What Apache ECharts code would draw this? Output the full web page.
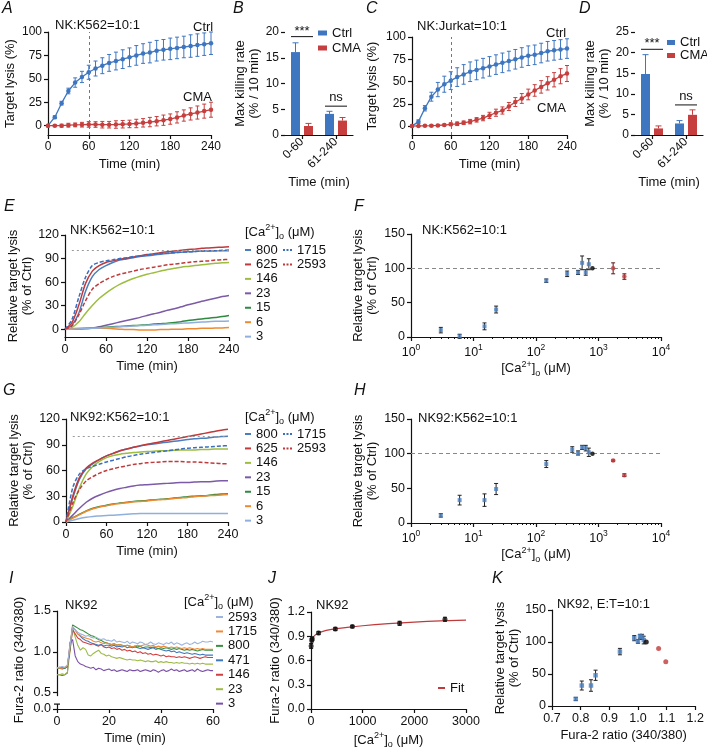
<!DOCTYPE html>
<html><head><meta charset="utf-8">
<script src="https://cdn.jsdelivr.net/npm/echarts@6/dist/echarts.min.js"></script>
<style>html,body{margin:0;padding:0;background:#fff}#c{width:707px;height:750px}</style>
</head><body><div id="c"></div>
<script>
// ---------------- DATA ----------------
const T10 = [0,10,20,30,40,50,60,70,80,90,100,110,120,130,140,150,160,170,180,190,200,210,220,230,240];
// Panel A (NK:K562)
const A_ctrl     = [0,9,24,37,46,52,57,61,64,67,69,71,73,75,77,78,80,81,82,83,84,85,86,87,88];
const A_ctrl_sem = [0,1.5,2,3,5,6,7.5,8,8.5,9,9.5,10,10,10.5,10.5,11,11,11,11.5,11.5,11.5,12,12,12,12];
const A_cma      = [0,0,0,0.5,0.8,1,1.3,1.2,1,1,1.2,1.5,1.8,2.3,3,3.8,4.7,5.8,7,8.8,10.8,12.5,14,15.5,17];
const A_cma_sem  = [0,1,1.5,2,2,2.5,3,3,3.5,3.5,4,4,4,4.5,4.5,5,5,5.5,5.5,6,6,6.5,7,7.5,8];
// Panel C (NK:Jurkat)
const C_ctrl     = [0,5,20,33,41,47,51,55,58,61,63,65,67,69,71,73,75,77,79,80,82,84,85,86,87];
const C_ctrl_sem = [0,2,3,5,8,9,10,10.5,11,11,11,11,11,11,11,11,11,11,11,11,11,11,11,11,11];
const C_cma      = [0,0.2,0.3,0.5,0.8,1.2,2,2.6,3.7,5,7,9,12,15,17.5,22,27,31,35.5,40,44,48,52,56,59];
const C_cma_sem  = [0,0.5,0.8,1,1,1,1.5,2,2,2.5,2.5,3,3.5,4,4,4.5,5,5.5,6,6.5,7,7.5,8,8.5,9];
// Panels B, D (bars)
const barCats = ['0-60','61-240'];
const B_ctrl = [16.1, 4.1], B_ctrl_sem = [1.8, 0.5];
const B_cma  = [1.75, 2.8], B_cma_sem  = [0.5, 0.6];
const B_sig  = [[0, 19.1, '***'], [1, 5.6, 'ns']];
const D_ctrl = [14.8, 2.8], D_ctrl_sem = [4.7, 0.7];
const D_cma  = [1.6, 4.9],  D_cma_sem  = [0.6, 1.2];
const D_sig  = [[0, 20.8, '***'], [1, 7.3, 'ns']];
// Panel E (NK:K562, relative lysis by [Ca2+]o)
const E_800  = [0,5,20,48,67,76,81,85,88,89.5,91,92.5,93.5,94.5,95.5,96.5,97.5,98,98.5,99,99.5,99.5,100,100,100];
const E_625  = [0,8,30,58,74,81,85,87,89,90.5,92,93.5,95,96,97.5,98.5,99.5,100.5,101.5,102,103,103.5,104,104.5,105];
const E_146  = [0,2,9,20,30,39,46,52,57,61,64.5,67.5,70,72,74,76,77.5,79,80,81,82,83,84,84.5,85];
const E_23   = [0,0,0.2,0.5,1.5,3,5,7,9,11,13,15,17.5,19.5,21.5,24,26,28.5,31,33,35.5,37.5,39.5,41.5,43];
const E_15   = [0,0,0.5,1,1.5,2,2.5,3,3.5,4,4.5,5,5.5,6.5,7,7.5,8.5,9.5,11,12,13,14,15,16,17.5];
const E_6    = [0,0.5,1,1,1,1,1,0.5,0,-0.5,-0.5,-1,-1,-1,-0.5,-0.5,0,0,0.5,0.5,1,1,1.5,1.5,2];
const E_3    = [0,0,0.3,0.5,1,1.5,2,2.5,3,3.5,4,4.5,5,5.5,6,6.5,7,7.5,8,8.5,9,9.5,10,10,10.5];
const E_1715 = [0,12,40,66,81,85,87,88.5,90,91,92.5,93.5,94.5,95.5,96.5,97,97.5,98,98.5,99,99.5,100,100,100.5,101];
const E_2593 = [0,4,18,36,51,58,63,67,70,72,74,76,77.5,79,80.5,82,83,84,85,86,86.5,87,88,88.5,89];
// Panel G (NK92:K562)
const G_800  = [0,28,50,62,68,73,77,80,83,85,87,88.5,90,91,92,93,94,95,96,97,97.5,98,99,99.5,100];
const G_625  = [0,30,52,63,69,73,77,80,83,85,87,89,90.5,92,93.5,95,96.5,98,99.5,101,102.5,104,105.5,107,108];
const G_146  = [0,18,40,56,65,71,75,77.5,79,80,81,81.5,82,82.5,83,83,83.5,84,84,84,84.5,84.5,85,85,85];
const G_23   = [0,8,16,23,28,31.5,34.5,37,39,40.5,42,43,43.5,44,44.5,45,45.5,46,46,46.5,47,47,47.5,48,48];
const G_15   = [0,5,9,13,16,18,19.5,21,22,23,24,24.5,25,26,26.5,27,28,28.5,29.5,30,30.5,31,32,32.5,33];
const G_6    = [0,4.5,8.5,12.5,15.5,17.5,19,20.5,21.5,22.5,23.5,24,24.5,25.5,26,26.5,27.5,28,28.5,29.5,30,30.5,31,31.5,32];
const G_3    = [0,2,4,5.5,6.5,7,7.5,8,8.5,9,9.5,10,10,10,10,10,10,10,10,10,10,10,10,10,10];
const G_1715 = [0,40,56,62,65,67.5,70,72,74,76,77.5,79,80,81,82,83,84,85,86,86.5,87,87.5,88,88.5,89];
const G_2593 = [0,22,38,48,53,57,60,62,64,65.5,67,68,69,69.5,70,70.5,70.5,70.5,70,70,69.5,69,68.5,68,68];
// Panel F (log x)
const F_x   = [3,6,15,23,146,315,471,547,625,700];
const F_y   = [10,1,15.5,40,82,92,94,108,94,106];
const F_err = [4,3,5,5,2.5,4,3,10,4,8];
const F_ref = [[800,100]];
const F_hi  = [[1715,100,8],[2593,88,4]];
// Panel H (log x)
const H_x   = [3,6,15,23,146,380,471,547,625,700];
const H_y   = [11,33,33,49,85,106,101,109,108,102];
const H_err = [2.5,7,9,8,5,4,3,3,4,6];
const H_ref = [[800,100]];
const H_hi  = [[1715,90,1],[2593,69,2]];
// Panel I (Fura-2 traces, 1-min samples)
const I_time = [0,1,2,3,4,5,6,7,8,9,10,11,12,13,14,15,16,17,18,19,20,21,22,23,24,25,26,27,28,29,30,
  31,32,33,34,35,36,37,38,39,40,41,42,43,44,45,46,47,48,49,50,51,52,53,54,55,56,57,58,59,60];
const I_2593 = [0.80,0.81,0.82,0.81,0.84, 1.08,1.31,1.27,1.24,1.22, 1.21,1.19,1.20,1.18,1.17, 1.18,1.16,1.15,1.16,1.14,
  1.14,1.13,1.15,1.12,1.13, 1.12,1.11,1.13,1.10,1.12, 1.11,1.10,1.12,1.11,1.09, 1.10,1.12,1.10,1.09,1.11,
  1.10,1.09,1.11,1.10,1.12, 1.09,1.11,1.10,1.08,1.10, 1.11,1.09,1.10,1.12,1.10, 1.11,1.13,1.12,1.12,1.13, 1.12];
const I_1715 = [0.81,0.80,0.80,0.81,0.83, 1.08,1.31,1.27,1.22,1.20, 1.18,1.17,1.16,1.15,1.13, 1.12,1.13,1.11,1.10,1.11,
  1.10,1.09,1.10,1.08,1.09, 1.08,1.07,1.08,1.07,1.06, 1.07,1.08,1.07,1.08,1.09, 1.08,1.07,1.08,1.06,1.07,
  1.06,1.07,1.06,1.05,1.06, 1.05,1.06,1.05,1.04,1.05, 1.04,1.05,1.04,1.03,1.04, 1.03,1.04,1.03,1.03,1.03, 1.03];
const I_800  = [0.80,0.80,0.81,0.80,0.82, 1.05,1.33,1.31,1.29,1.27, 1.26,1.24,1.22,1.20,1.19, 1.17,1.15,1.14,1.12,1.11,
  1.10,1.09,1.10,1.08,1.09, 1.08,1.07,1.08,1.07,1.06, 1.07,1.06,1.07,1.05,1.06, 1.06,1.05,1.06,1.05,1.04,
  1.05,1.04,1.05,1.04,1.03, 1.04,1.03,1.04,1.03,1.02, 1.03,1.02,1.03,1.02,1.01, 1.02,1.03,1.02,1.02,1.02, 1.02];
const I_471  = [0.80,0.81,0.80,0.80,0.83, 1.05,1.30,1.27,1.22,1.19, 1.16,1.14,1.13,1.11,1.10, 1.09,1.08,1.09,1.07,1.08,
  1.08,1.07,1.08,1.06,1.07, 1.06,1.07,1.05,1.06,1.05, 1.06,1.05,1.04,1.05,1.04, 1.03,1.04,1.05,1.03,1.04,
  1.03,1.02,1.01,1.02,1.00, 1.01,0.99,1.00,0.99,0.98, 0.99,0.98,0.97,0.98,0.97, 0.96,0.97,0.96,0.96,0.96, 0.96];
const I_146  = [0.80,0.80,0.79,0.80,0.82, 1.02,1.27,1.22,1.17,1.15, 1.12,1.11,1.10,1.09,1.10, 1.08,1.07,1.09,1.06,1.05,
  1.06,1.04,1.05,1.03,1.04, 1.02,1.03,1.01,1.02,1.00, 1.01,0.99,1.00,0.98,0.99, 0.97,0.98,0.96,0.97,0.96,
  0.95,0.96,0.94,0.95,0.94, 0.94,0.93,0.94,0.93,0.94, 0.93,0.92,0.93,0.94,0.93, 0.92,0.93,0.94,0.93,0.93, 0.93];
const I_23   = [0.72,0.72,0.73,0.72,0.75, 1.00,1.30,1.18,1.08,1.02, 1.05,1.03,0.96,0.95,0.98, 1.00,1.02,0.98,0.97,0.95,
  0.96,0.94,0.93,0.92,0.93, 0.92,0.91,0.90,0.91,0.90, 0.90,0.89,0.90,0.89,0.88, 0.89,0.88,0.88,0.89,0.87,
  0.88,0.87,0.88,0.87,0.87, 0.86,0.87,0.86,0.87,0.86, 0.86,0.85,0.86,0.85,0.86, 0.85,0.86,0.85,0.85,0.85, 0.85];
const I_3    = [0.72,0.72,0.71,0.72,0.74, 1.12,1.15,0.95,0.88,0.85, 0.84,0.82,0.81,0.80,0.81, 0.78,0.80,0.79,0.77,0.78,
  0.79,0.77,0.78,0.76,0.77, 0.78,0.77,0.76,0.78,0.77, 0.77,0.78,0.76,0.77,0.78, 0.77,0.76,0.78,0.77,0.75,
  0.77,0.78,0.76,0.77,0.79, 0.77,0.78,0.76,0.77,0.78, 0.76,0.77,0.78,0.76,0.79, 0.77,0.76,0.77,0.78,0.77, 0.77];
// Panel I y axis: broken axis; the segment below the break stands for 0.0
const I_yFloor = 0.3, I_yTop = 1.5;
const I_yTicksHigh = [1.0, 1.5];
const I_yTicksLow = [[0.5,'0.5'],[I_yFloor,'0.0']];
const I_yGap = [0.36, 0.47];
// Panel J
const J_x   = [3,15,23,146,471,800,1715,2593];
const J_y   = [0.78,0.85,0.87,0.94,0.99,1.02,1.06,1.11];
const J_err = [0.03,0.02,0.02,0.02,0.02,0.015,0.025,0.025];
const J_fitX = [0,10,25,50,100,200,400,700,1000,1500,2000,2500,3000];
const J_fitY = [0.78,0.82,0.86,0.895,0.925,0.955,0.985,1.01,1.03,1.055,1.075,1.09,1.1];
// Panel K
const K_x   = [0.783,0.804,0.836,0.852,0.937,0.987,1.0,1.007,1.014,1.02];
const K_y   = [11,32,32,48,85,106,101,109,108,103];
const K_err = [2.5,7,9,8,5,4,3,3,4,6];
const K_ref = [[1.029,100]];
const K_hi  = [[1.072,90],[1.097,69]];

// ---------------- STYLE ----------------
const FONT = '"Liberation Sans", Arial, Helvetica, sans-serif';
const BLUE = '#3e76c0', RED = '#c63f3e', INK = '#111';
const EC = {800:'#4a7ebf',625:'#c0393b',146:'#9dbd3e',23:'#7b5aa6',15:'#2e8a3f',6:'#ee8a2f',3:'#8fb0dc',1715:'#3a6fc0',2593:'#c0393b'};
const IC = {2593:'#9cb4de',1715:'#f08a3a',800:'#3a8f3f',471:'#3f78c0',146:'#d04040',23:'#9dbb4a',3:'#7a4fa8'};

function merge(a,b){const o={...a};for(const k in b){const v=b[k];if(v&&typeof v==='object'&&!Array.isArray(v)&&a[k]&&typeof a[k]==='object'&&!Array.isArray(a[k]))o[k]=merge(a[k],v);else o[k]=v;}return o;}
const RICH = {n:{fontSize:13,lineHeight:18,verticalAlign:'middle',fontFamily:FONT,color:INK,fontWeight:'normal'},
  sup:{fontSize:9,lineHeight:18,verticalAlign:'top',fontFamily:FONT,color:INK,fontWeight:'normal'},
  sub:{fontSize:9,lineHeight:18,verticalAlign:'bottom',fontFamily:FONT,color:INK,fontWeight:'normal'}};
const RICH2 = merge(RICH,{n:{lineHeight:14}});
const axisBase = {
  axisLine:{onZero:false,lineStyle:{color:INK,width:1.2}},
  axisTick:{show:true,length:4,inside:false,lineStyle:{color:INK,width:1.2}},
  axisLabel:{color:INK,fontSize:12.5,fontFamily:FONT,margin:6,fontWeight:'normal'},
  splitLine:{show:false},
  nameLocation:'middle',
  nameTextStyle:{color:INK,fontSize:13,fontFamily:FONT,lineHeight:14,fontWeight:'normal',rich:RICH2}
};
const ax = o => merge(axisBase,o);
const nm = s => s.split('\n').map(l=>'{n|'+l+'}').join('\n');
const CA_TEXT = '{n|[Ca}{sup|2+}{n|]}{sub|o}{n| (μM)}';
const logLabel = {formatter:v=>'{b|10}{s|'+Math.round(Math.log10(v))+'}',
  rich:{b:{fontSize:12.5,lineHeight:16,verticalAlign:'bottom',fontFamily:FONT,color:INK},
        s:{fontSize:8.5,lineHeight:16,verticalAlign:'top',fontFamily:FONT,color:INK}}};
const REL = nm('Relative target lysis\n(% of Ctrl)');
const FURA = nm('Fura-2 ratio (340/380)');
const TIME = nm('Time (min)');
const f1 = v=>Number(v).toFixed(1);
const plain = v=>String(Math.round(v));

const grids = [
 {left:48,top:32,width:163,height:103},   // A
 {left:285,top:32,width:68,height:103},   // B
 {left:412,top:37,width:155,height:98},   // C
 {left:635,top:32,width:68,height:103},   // D
 {left:65,top:235,width:164,height:102},  // E
 {left:411,top:234,width:250,height:103}, // F
 {left:66,top:419,width:162,height:103},  // G
 {left:411,top:419,width:250,height:104}, // H
 {left:57,top:611,width:156,height:98},   // I
 {left:311,top:612,width:155,height:97},  // J
 {left:552,top:610,width:146,height:96}   // K
];

const tX = gi => ax({gridIndex:gi,type:'value',min:0,max:240,interval:60,name:TIME,nameGap:22});
const xAxes = [
 merge(tX(0),{axisLabel:{fontSize:12}}),
 ax({gridIndex:1,type:'category',data:barCats,axisTick:{alignWithLabel:true},axisLabel:{rotate:45,margin:5,fontSize:12},name:TIME,nameGap:40}),
 merge(tX(2),{axisLabel:{fontSize:12}}),
 ax({gridIndex:3,type:'category',data:barCats,axisTick:{alignWithLabel:true},axisLabel:{rotate:45,margin:5,fontSize:12},name:TIME,nameGap:40}),
 tX(4),
 ax({gridIndex:5,type:'log',logBase:10,min:1,max:10000,axisLabel:logLabel,minorTick:{show:true,splitNumber:9,length:2,lineStyle:{color:INK}},name:CA_TEXT,nameGap:22,nameTextStyle:{rich:RICH}}),
 tX(6),
 ax({gridIndex:7,type:'log',logBase:10,min:1,max:10000,axisLabel:logLabel,minorTick:{show:true,splitNumber:9,length:2,lineStyle:{color:INK}},name:CA_TEXT,nameGap:22,nameTextStyle:{rich:RICH}}),
 ax({gridIndex:8,type:'value',min:0,max:60,interval:20,name:TIME,nameGap:22}),
 ax({gridIndex:9,type:'value',min:0,max:3000,interval:1000,axisLabel:{formatter:plain},name:CA_TEXT,nameGap:22,nameTextStyle:{rich:RICH}}),
 ax({gridIndex:10,type:'value',min:0.7,max:1.2,interval:0.1,axisLabel:{formatter:f1},name:FURA,nameGap:22})
];
const yAxes = [
 ax({gridIndex:0,type:'value',min:-10,max:100,axisLabel:{customValues:[0,25,50,75,100],fontSize:12},axisTick:{customValues:[0,25,50,75,100]},name:nm('Target lysis (%)'),nameGap:31}),
 ax({gridIndex:1,type:'value',min:0,max:20,interval:5,axisLabel:{fontSize:12},name:nm('Max killing rate\n(% / 10 min)'),nameGap:21}),
 ax({gridIndex:2,type:'value',min:-10,max:100,axisLabel:{customValues:[0,25,50,75,100],fontSize:12},axisTick:{customValues:[0,25,50,75,100]},name:nm('Target lysis (%)'),nameGap:33}),
 ax({gridIndex:3,type:'value',min:0,max:25,interval:5,axisLabel:{fontSize:12},name:nm('Max killing rate\n(% / 10 min)'),nameGap:21}),
 ax({gridIndex:4,type:'value',min:-10,max:120,axisLabel:{customValues:[0,30,60,90,120]},axisTick:{customValues:[0,30,60,90,120]},name:REL,nameGap:27}),
 ax({gridIndex:5,type:'value',min:0,max:150,interval:50,name:REL,nameGap:32}),
 ax({gridIndex:6,type:'value',min:0,max:120,interval:30,name:REL,nameGap:27}),
 ax({gridIndex:7,type:'value',min:0,max:150,interval:50,name:REL,nameGap:32}),
 ax({gridIndex:8,type:'value',min:I_yFloor,max:I_yTop,
     axisLabel:{customValues:I_yTicksHigh,formatter:f1},
     axisTick:{customValues:I_yTicksHigh.concat(I_yTicksLow.map(t=>t[0]))},name:FURA,nameGap:31}),
 ax({gridIndex:9,type:'value',min:0,max:1.2,interval:0.3,axisLabel:{formatter:f1},name:FURA,nameGap:29}),
 ax({gridIndex:10,type:'value',min:0,max:150,interval:50,name:REL,nameGap:29})
];

// ---------------- SERIES HELPERS ----------------
const zip = (xs,ys)=>xs.map((x,i)=>[x,ys[i]]);
const zip3 = (xs,ys,es)=>xs.map((x,i)=>[x,ys[i],es[i]]);
function lineS(gi,name,xs,ys,color,o={}){
  const s={type:'line',name,xAxisIndex:gi,yAxisIndex:gi,data:zip(xs,ys),silent:true,
    symbol:o.symbol?'circle':'none',showSymbol:!!o.symbol,symbolSize:4.5,smooth:o.smooth||false,
    lineStyle:{color,width:o.width||1.3,type:o.dash?[4,2]:'solid'},itemStyle:{color},z:o.z||2};
  if(o.mark) s.markLine=Object.assign({silent:true,symbol:'none',label:{show:false}},o.mark);
  return s;
}
function errBars(gi,rows,color,o={}){
  const cap=o.cap??2.5, dx=o.dx??0, up=!!o.up, lw=o.lw??1;
  return {type:'custom',xAxisIndex:gi,yAxisIndex:gi,data:rows,silent:true,z:o.z??3,
    renderItem(params,api){
      const x=api.value(0),y=api.value(1),e=api.value(2);
      if(!e) return null;
      const top=api.coord([x,y+e]), bot=api.coord([x,up?y:y-e]);
      const cx=top[0]+dx, st={stroke:color,lineWidth:lw};
      const ch=[{type:'line',shape:{x1:cx,y1:bot[1],x2:cx,y2:top[1]},style:st},
                {type:'line',shape:{x1:cx-cap,y1:top[1],x2:cx+cap,y2:top[1]},style:st}];
      if(!up) ch.push({type:'line',shape:{x1:cx-cap,y1:bot[1],x2:cx+cap,y2:bot[1]},style:st});
      return {type:'group',children:ch};
    }};
}
function sigMarks(gi,rows,halfW){
  return {type:'custom',xAxisIndex:gi,yAxisIndex:gi,data:rows.map(r=>[r[0],r[1]]),silent:true,z:4,
    renderItem(params,api){
      const p=api.coord([api.value(0),api.value(1)]);
      const lab=rows[params.dataIndex][2], ns=lab==='ns';
      return {type:'group',children:[
        {type:'line',shape:{x1:p[0]-halfW,y1:p[1],x2:p[0]+halfW,y2:p[1]},style:{stroke:INK,lineWidth:1}},
        {type:'text',style:{text:lab,x:p[0],y:ns?p[1]-2:p[1]-12,align:'center',verticalAlign:ns?'bottom':'top',fill:INK,font:'13px '+FONT}}
      ]};
    }};
}
function axisBreakMarks(gi, gap){
  return {type:'custom',xAxisIndex:gi,yAxisIndex:gi,data:[[0,gap[0],gap[1]]],silent:true,z:60,clip:false,
    renderItem(params,api){
      const x0=api.coord([0,gap[0]])[0];
      const yLo=api.coord([0,gap[0]])[1], yHi=api.coord([0,gap[1]])[1];
      return {type:'group',children:[
        {type:'rect',shape:{x:x0-2.5,y:yHi+1,width:5,height:yLo-yHi-1},style:{fill:'#fff'}},
        {type:'line',shape:{x1:x0-3,y1:yLo,x2:x0+3,y2:yLo},style:{stroke:INK,lineWidth:1.2}}
      ]};
    }};
}
function pts(gi,name,data,color,symbol,size){
  return {type:'scatter',name,xAxisIndex:gi,yAxisIndex:gi,data,symbol,symbolSize:size,itemStyle:{color},silent:true,z:5};
}
function bar(gi,name,vals,color){
  return {type:'bar',name,xAxisIndex:gi,yAxisIndex:gi,data:vals,barWidth:9,barGap:'44%',itemStyle:{color},silent:true,z:2};
}
const xMark60 = {lineStyle:{color:'#777',type:[3,3],width:1},data:[{xAxis:60}]};
const y100dot = {lineStyle:{color:'#999',type:[2,3],width:1},data:[[{coord:[10,100]},{coord:[240,100]}]]};
const y100dash = {lineStyle:{color:'#888',type:[4,3],width:1},data:[{yAxis:100}]};

const series = [];
// A
series.push(lineS(0,'A:Ctrl',T10,A_ctrl,BLUE,{symbol:true,mark:xMark60}));
series.push(lineS(0,'A:CMA',T10,A_cma,RED,{symbol:true}));
series.push(errBars(0,zip3(T10,A_ctrl,A_ctrl_sem),BLUE,{cap:2}));
series.push(errBars(0,zip3(T10,A_cma,A_cma_sem),RED,{cap:2}));
// B
series.push(bar(1,'B:Ctrl',B_ctrl,BLUE));
series.push(bar(1,'B:CMA',B_cma,RED));
series.push(errBars(1,zip3([0,1],B_ctrl,B_ctrl_sem),BLUE,{dx:-6.5,up:true,cap:3}));
series.push(errBars(1,zip3([0,1],B_cma,B_cma_sem),RED,{dx:6.5,up:true,cap:3}));
series.push(sigMarks(1,B_sig,11));
// C
series.push(lineS(2,'C:Ctrl',T10,C_ctrl,BLUE,{symbol:true,mark:xMark60}));
series.push(lineS(2,'C:CMA',T10,C_cma,RED,{symbol:true}));
series.push(errBars(2,zip3(T10,C_ctrl,C_ctrl_sem),BLUE,{cap:2}));
series.push(errBars(2,zip3(T10,C_cma,C_cma_sem),RED,{cap:2}));
// D
series.push(bar(3,'D:Ctrl',D_ctrl,BLUE));
series.push(bar(3,'D:CMA',D_cma,RED));
series.push(errBars(3,zip3([0,1],D_ctrl,D_ctrl_sem),BLUE,{dx:-6.5,up:true,cap:3}));
series.push(errBars(3,zip3([0,1],D_cma,D_cma_sem),RED,{dx:6.5,up:true,cap:3}));
series.push(sigMarks(3,D_sig,11));
// E
const Eset = [['800',E_800],['625',E_625],['146',E_146],['23',E_23],['15',E_15],['6',E_6],['3',E_3]];
Eset.forEach(([k,v],i)=>series.push(lineS(4,'E:'+k,T10,v,EC[k],{smooth:0.3,width:1.5,mark:i===0?y100dot:null})));
series.push(lineS(4,'E:1715',T10,E_1715,EC[1715],{smooth:0.3,width:1.5,dash:true}));
series.push(lineS(4,'E:2593',T10,E_2593,EC[2593],{smooth:0.3,width:1.5,dash:true}));
// F
series.push(errBars(5,zip3(F_x,F_y,F_err),'#222',{cap:2}));
series.push(errBars(5,F_hi,'#5a1a1a',{cap:2}));
series.push(merge(pts(5,'F:v',zip(F_x,F_y),'#4a7ebf','rect',4),{markLine:Object.assign({silent:true,symbol:'none',label:{show:false}},y100dash)}));
series.push(pts(5,'F:ref',F_ref,'#000','circle',4.5));
series.push(pts(5,'F:hi',F_hi.map(r=>[r[0],r[1]]),'#c0393b','circle',4.5));
// G
const Gset = [['800',G_800],['625',G_625],['146',G_146],['23',G_23],['15',G_15],['6',G_6],['3',G_3]];
Gset.forEach(([k,v],i)=>series.push(lineS(6,'G:'+k,T10,v,EC[k],{smooth:0.3,width:1.5,mark:i===0?y100dot:null})));
series.push(lineS(6,'G:1715',T10,G_1715,EC[1715],{smooth:0.3,width:1.5,dash:true}));
series.push(lineS(6,'G:2593',T10,G_2593,EC[2593],{smooth:0.3,width:1.5,dash:true}));
// H
series.push(errBars(7,zip3(H_x,H_y,H_err),'#222',{cap:2}));
series.push(errBars(7,H_hi,'#5a1a1a',{cap:2}));
series.push(merge(pts(7,'H:v',zip(H_x,H_y),'#4a7ebf','rect',4),{markLine:Object.assign({silent:true,symbol:'none',label:{show:false}},y100dash)}));
series.push(pts(7,'H:ref',H_ref,'#000','circle',4.5));
series.push(pts(7,'H:hi',H_hi.map(r=>[r[0],r[1]]),'#c0393b','circle',4.5));
// I
const Iset = [['2593',I_2593],['1715',I_1715],['800',I_800],['471',I_471],['146',I_146],['23',I_23],['3',I_3]];
Iset.slice().reverse().forEach(([k,v])=>series.push(lineS(8,'I:'+k,I_time,v,IC[k],{width:1.1})));
series.push(axisBreakMarks(8,I_yGap));
// J
series.push(lineS(9,'J:Fit',J_fitX,J_fitY,'#c0393b',{smooth:0.4,width:1.2}));
series.push(errBars(9,zip3(J_x,J_y,J_err),'#111',{cap:2}));
series.push(pts(9,'J:pts',zip(J_x,J_y),'#111','circle',5));
// K
series.push(errBars(10,zip3(K_x,K_y,K_err),'#222',{cap:2}));
series.push(pts(10,'K:v',zip(K_x,K_y),'#4a7ebf','rect',4.5));
series.push(pts(10,'K:ref',K_ref,'#000','circle',5));
series.push(pts(10,'K:hi',K_hi,'#c0393b','circle',5));

// ---------------- TEXT ----------------
const txt = (text,left,top,o={}) => ({text,left,top,padding:0,
  textStyle:Object.assign({fontSize:13,fontWeight:'normal',color:INK,fontFamily:FONT},o)});
const letter = (t,l,tp) => txt(t,l,tp,{fontSize:16,fontStyle:'italic'});
const titles = [
  letter('A',2,1),letter('B',233,1),letter('C',366,1),letter('D',579,1),
  letter('E',4,199),letter('F',354,199),letter('G',3,383),letter('H',354,383),
  letter('I',9,571),letter('J',268,571),letter('K',492,571),
  txt('NK:K562=10:1',55,19), txt('Ctrl',193,21), txt('CMA',183,91),
  txt('NK:Jurkat=10:1',417,20), txt('Ctrl',546,27), txt('CMA',537,102),
  txt('NK:K562=10:1',70,224), txt('NK:K562=10:1',422,224),
  txt('NK92:K562=10:1',70,411), txt('NK92:K562=10:1',418,412),
  txt('NK92',65,599), txt('NK92',316,599), txt('NK92, E:T=10:1',557,598),
  txt(CA_TEXT,245,223,{rich:RICH}), txt(CA_TEXT,245,408,{rich:RICH}), txt(CA_TEXT,184,593,{rich:RICH})
];

// Panel I low tick labels: placed on the value scale of panel I's linear y axis.
const gI = grids[8];
const I_valToPx = v => gI.top + gI.height * (I_yTop - v) / (I_yTop - I_yFloor);
I_yTicksLow.forEach(([v,lab]) => {
  titles.push({text:lab, right: 707 - (gI.left - 6), top: I_valToPx(v) - 7, padding:0,
    textStyle:{fontSize:12.5, lineHeight:14, fontWeight:'normal', color:INK, fontFamily:FONT}});
});

// ---------------- LEGENDS ----------------
const DASH = 'rect';
const DOTS = 'path://M0,0h2v2h-2z M3.5,0h2v2h-2z M7,0h2v2h-2z';
const strip = n=>n.split(':')[1];
const lg = (data,left,top,o={}) => Object.assign({data,left,top,orient:'vertical',padding:0,selectedMode:false,
  icon:DASH,itemWidth:7,itemHeight:2,itemGap:0.44,formatter:strip,
  textStyle:{fontSize:13,lineHeight:14,color:INK,fontFamily:FONT}},o);
const legends = [
  lg(['B:Ctrl','B:CMA'],318,26,{itemWidth:9,itemHeight:5,itemGap:1}),
  lg(['D:Ctrl','D:CMA'],667,36,{itemWidth:8,itemHeight:5,itemGap:0,textStyle:{fontSize:13,lineHeight:12,color:INK,fontFamily:FONT}}),
  lg(['E:800','E:625','E:146','E:23','E:15','E:6','E:3'],245,243,{itemWidth:6}),
  lg(['E:1715','E:2593'],283,243,{itemWidth:9,icon:DOTS}),
  lg(['G:800','G:625','G:146','G:23','G:15','G:6','G:3'],245,427,{itemWidth:6}),
  lg(['G:1715','G:2593'],283,427,{itemWidth:9,icon:DOTS}),
  lg(['I:2593','I:1715','I:800','I:471','I:146','I:23','I:3'],216,610,{itemWidth:7}),
  lg(['J:Fit'],438,681,{itemWidth:7})
];

const chart = echarts.init(document.getElementById('c'),null,{renderer:'canvas'});
chart.setOption({
  animation:false, backgroundColor:'#fff',
  textStyle:{fontFamily:FONT},
  title:titles, legend:legends, grid:grids, xAxis:xAxes, yAxis:yAxes, series
});
</script></body></html>
